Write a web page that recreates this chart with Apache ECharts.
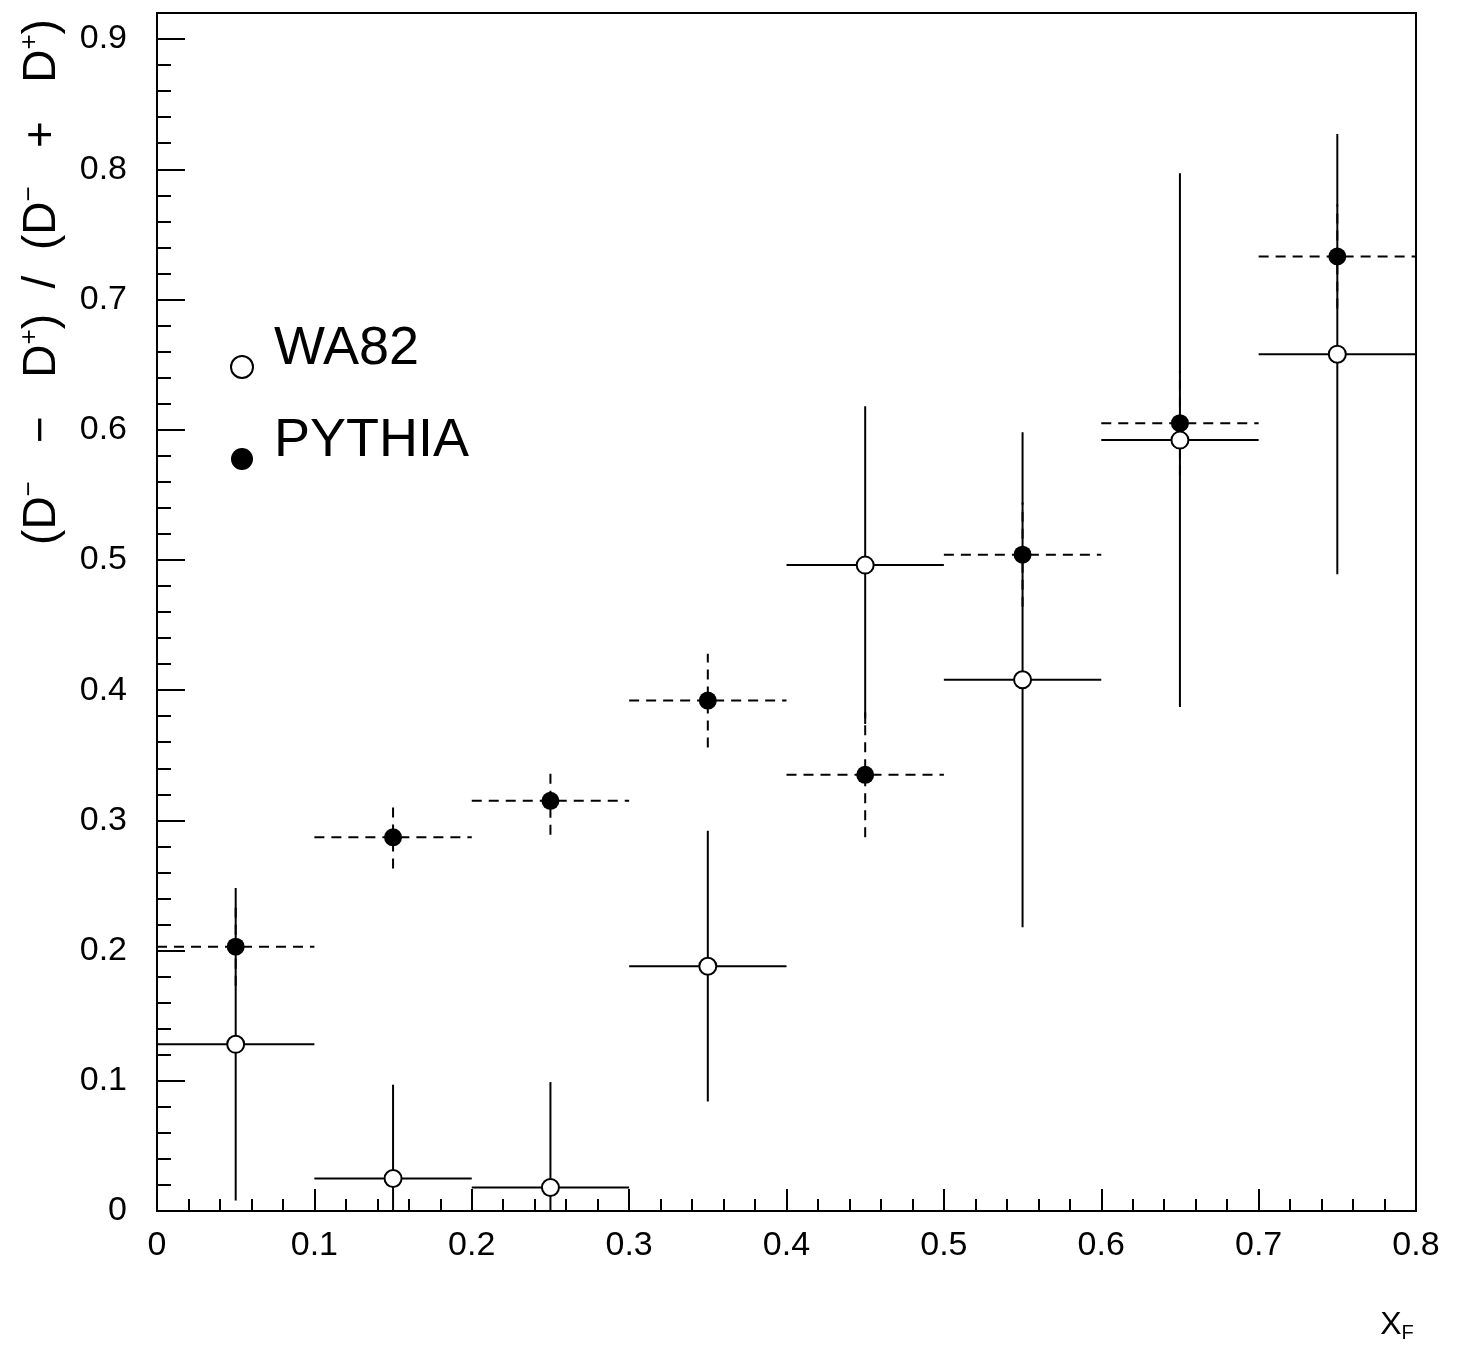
<!DOCTYPE html>
<html><head><meta charset="utf-8">
<script src="https://cdn.jsdelivr.net/npm/echarts@6/dist/echarts.min.js"></script>
<style>html,body{margin:0;padding:0;background:#fff}#c{width:1460px;height:1345px}</style>
</head><body><div id="c"></div>
<script>
// ---- data ----
const xCenters     = [0.05, 0.15, 0.25, 0.35, 0.45, 0.55, 0.65, 0.75];
const binHalfWidth = [0.05, 0.05, 0.05, 0.05, 0.05, 0.05, 0.05, 0.05];
const wa82Values   = [0.128, 0.025, 0.018, 0.188, 0.496, 0.408, 0.592, 0.658];
const wa82Errors   = [0.120, 0.072, 0.081, 0.104, 0.122, 0.190, 0.205, 0.169];
const pythiaValues = [0.203, 0.287, 0.315, 0.392, 0.335, 0.504, 0.605, 0.733];
const pythiaErrors = [0.030, 0.024, 0.026, 0.036, 0.048, 0.040, 0.040, 0.040];
const yMajorTicks  = [0, 0.1, 0.2, 0.3, 0.4, 0.5, 0.6, 0.7, 0.8, 0.9];
const xTickLabels  = ['0', '0.1', '0.2', '0.3', '0.4', '0.5', '0.6', '0.7', '0.8'];
const seriesNames  = ['WA82', 'PYTHIA'];

const Y_MIN = 0, Y_MAX = 0.92, X_MIN = 0, X_MAX = 0.8;
const FONT = 'Liberation Sans, Arial, sans-serif';

const wa82Data   = xCenters.map((x, i) => [x, wa82Values[i], wa82Errors[i], binHalfWidth[i]]);
const pythiaData = xCenters.map((x, i) => [x, pythiaValues[i], pythiaErrors[i], binHalfWidth[i]]);

function errRenderer(dashed) {
  return function (params, api) {
    const x = api.value(0), y = api.value(1), e = api.value(2), hw = api.value(3);
    const lo = Math.max(y - e, Y_MIN), hi = Math.min(y + e, Y_MAX);
    const pL = api.coord([x - hw, y]), pR = api.coord([x + hw, y]);
    const pB = api.coord([x, lo]), pT = api.coord([x, hi]);
    const style = { stroke: '#000', lineWidth: 2, fill: null, lineDash: dashed ? [10, 7] : null };
    return { type: 'group', children: [
      { type: 'line', shape: { x1: pL[0], y1: pL[1], x2: pR[0], y2: pR[1] }, style: style },
      { type: 'line', shape: { x1: pB[0], y1: pB[1], x2: pT[0], y2: pT[1] }, style: style }
    ]};
  };
}

const chart = echarts.init(document.getElementById('c'), null, { renderer: 'canvas' });
chart.setOption({
  animation: false,
  backgroundColor: '#fff',
  grid: { left: 157, right: 44, top: 13, bottom: 134, show: true, borderColor: '#000', borderWidth: 2, backgroundColor: 'transparent' },
  xAxis: {
    type: 'value', min: X_MIN, max: X_MAX, interval: 0.1,
    axisLine: { show: true, onZero: false, lineStyle: { color: '#000', width: 2 } },
    axisTick: { show: true, inside: true, length: 22, lineStyle: { color: '#000', width: 2 } },
    minorTick: { show: true, splitNumber: 5, length: 12, lineStyle: { color: '#000', width: 2 } },
    axisLabel: { margin: 18, fontSize: 34, color: '#000', fontFamily: FONT,
      formatter: v => xTickLabels[Math.round(v * 10)] },
    splitLine: { show: false }, minorSplitLine: { show: false }
  },
  yAxis: [
    {
      type: 'value', min: Y_MIN, max: Y_MAX, interval: 0.1, position: 'left',
      axisLine: { show: true, onZero: false, lineStyle: { color: '#000', width: 2 } },
      axisTick: { show: true, inside: true, length: 28, customValues: yMajorTicks, lineStyle: { color: '#000', width: 2 } },
      axisLabel: { customValues: yMajorTicks, margin: 30, fontSize: 34, color: '#000', fontFamily: FONT,
        formatter: v => (v === 0 ? '0' : v.toFixed(1)) },
      splitLine: { show: false }
    },
    {
      type: 'value', min: Y_MIN, max: Y_MAX, interval: 0.02, position: 'left',
      axisLine: { show: false },
      axisTick: { show: true, inside: true, length: 14, lineStyle: { color: '#000', width: 2 } },
      axisLabel: { show: false },
      splitLine: { show: false }
    }
  ],
  legend: {
    orient: 'vertical', left: 230, top: 322, padding: 0, itemGap: 14,
    itemWidth: 22, itemHeight: 22, selectedMode: false,
    data: [
      { name: seriesNames[0], icon: 'circle', itemStyle: { color: '#fff', borderColor: '#000', borderWidth: 2 } },
      { name: seriesNames[1], icon: 'circle', itemStyle: { color: '#000', borderWidth: 0 } }
    ],
    formatter: name => '{a|' + name + '}\n{b| }',
    textStyle: {
      color: '#000', fontFamily: FONT,
      rich: {
        a: { fontSize: 54, lineHeight: 56, color: '#000', fontFamily: FONT, padding: [0, 0, 0, 16] },
        b: { fontSize: 10, lineHeight: 36 }
      }
    }
  },
  graphic: [
    { type: 'text', x: 42, y: 282, rotation: Math.PI / 2,
      style: {
        text: '{n|(D}{s|−}{n|   −   D}{s|+}{n|)  /  (D}{s|−}{n|   +   D}{s|+}{n|)}',
        align: 'center', verticalAlign: 'middle',
        rich: {
          n: { fontSize: 46, lineHeight: 50, fontFamily: FONT, fill: '#000' },
          s: { fontSize: 26, verticalAlign: 'top', fontFamily: FONT, fill: '#000' }
        }
      } },
    { type: 'text', x: 1397, y: 1325,
      style: {
        text: '{a|X}{b|F}', align: 'center', verticalAlign: 'middle',
        rich: {
          a: { fontSize: 32, lineHeight: 36, fontFamily: FONT, fill: '#000' },
          b: { fontSize: 20, verticalAlign: 'bottom', fontFamily: FONT, fill: '#000' }
        }
      } }
  ],
  series: [
    { type: 'custom', name: 'PYTHIA errors', yAxisIndex: 0, renderItem: errRenderer(true), data: pythiaData, encode: { x: 0, y: 1 }, z: 2, silent: true },
    { type: 'custom', name: 'WA82 errors', yAxisIndex: 0, renderItem: errRenderer(false), data: wa82Data, encode: { x: 0, y: 1 }, z: 3, silent: true },
    { type: 'scatter', name: seriesNames[1], yAxisIndex: 0, data: pythiaData.map(d => [d[0], d[1]]), symbol: 'circle', symbolSize: 18,
      itemStyle: { color: '#000', opacity: 1 }, z: 5 },
    { type: 'scatter', name: seriesNames[0], yAxisIndex: 0, data: wa82Data.map(d => [d[0], d[1]]), symbol: 'circle', symbolSize: 17,
      itemStyle: { color: '#fff', borderColor: '#000', borderWidth: 2, opacity: 1 }, z: 6 }
  ]
});
</script></body></html>
